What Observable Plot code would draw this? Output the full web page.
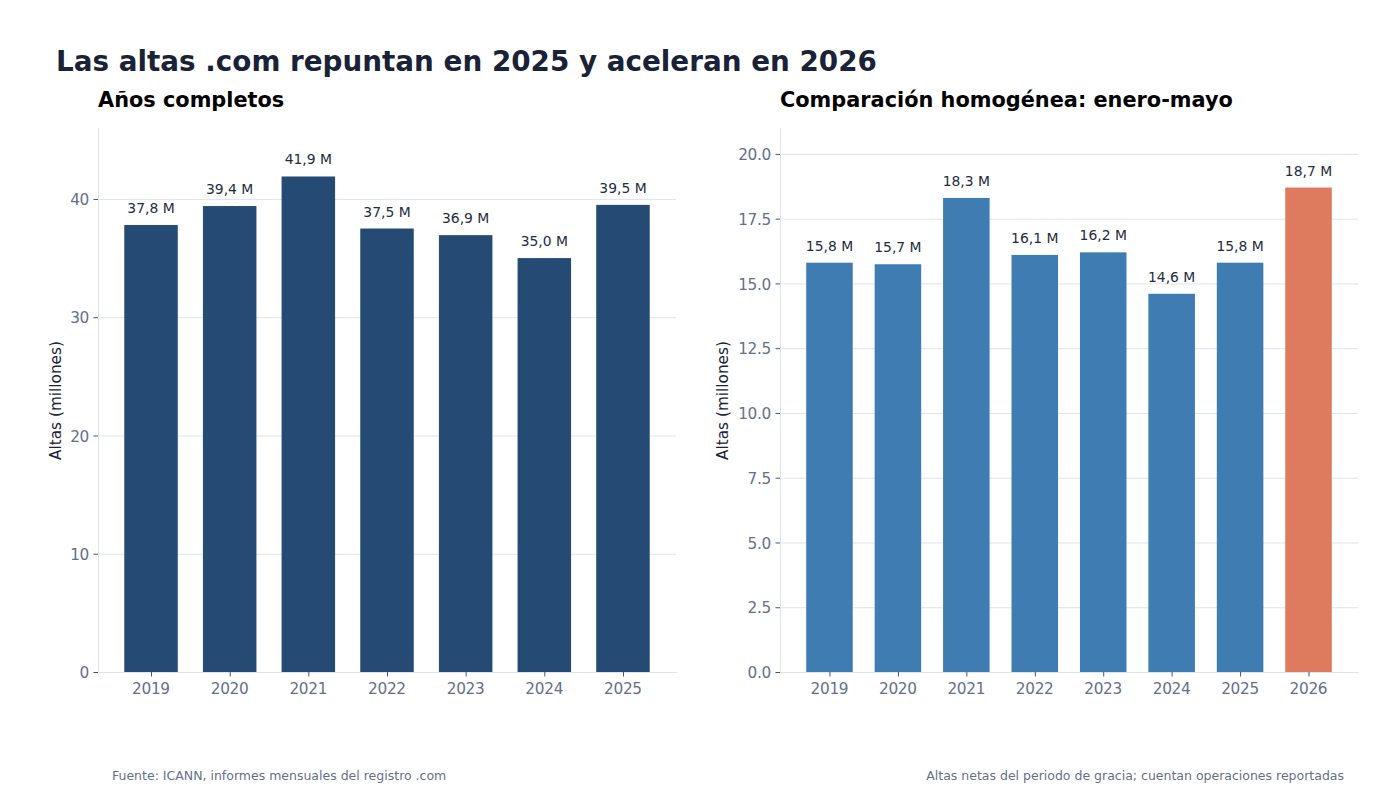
<!DOCTYPE html>
<html lang="es">
<head>
<meta charset="utf-8">
<script src="https://cdn.jsdelivr.net/npm/d3@7"></script>
<script src="https://cdn.jsdelivr.net/npm/@observablehq/plot@0.6"></script>
<style>
html,body{margin:0;padding:0;background:#fff;}
body{width:1400px;height:800px;position:relative;overflow:hidden;font-family:"DejaVu Sans",sans-serif;}
.t{position:absolute;white-space:nowrap;line-height:1;}
#title{left:56px;top:48px;font-size:27.8px;font-weight:700;color:#1a2238;}
.sub{top:90px;font-size:20.85px;font-weight:700;color:#000;}
.foot{top:770px;font-size:12.5px;color:#64708a;}
.chart{position:absolute;top:0;}
.chart svg{display:block;}
[aria-label$="tick label"]{letter-spacing:-0.3px;}
</style>
</head>
<body>
<div id="title" class="t">Las altas .com repuntan en 2025 y aceleran en 2026</div>
<div class="t sub" style="left:98px">Años completos</div>
<div class="t sub" style="left:780px">Comparación homogénea: enero-mayo</div>
<div id="left" class="chart" style="left:0"></div>
<div id="right" class="chart" style="left:682px"></div>
<div class="t foot" style="left:112px">Fuente: ICANN, informes mensuales del registro .com</div>
<div class="t foot" style="right:56px">Altas netas del periodo de gracia; cuentan operaciones reportadas</div>
<script>
const yearsFull = ["2019","2020","2021","2022","2023","2024","2025"];
const valuesFull = [37.8,39.4,41.9,37.5,36.94,35.0,39.5];
const yearsJanMay = ["2019","2020","2021","2022","2023","2024","2025","2026"];
const valuesJanMay = [15.8,15.74,18.3,16.1,16.2,14.6,15.8,18.7];
const ticksFull = [0,10,20,30,40];
const ticksJanMay = [0,2.5,5,7.5,10,12.5,15,17.5,20];
const yLabel = "Altas (millones)";

const gridColor = "#dee4ed";
const tickTextColor = "#64708a";
const tickColor = "#4a5568";
const fontFamily = '"DejaVu Sans",sans-serif';

function trunc1(v){ return (Math.floor(v*10+1e-6)/10).toFixed(1).replace(".",",")+" M"; }

function chart({years, values, yMax, ticks, tickFormat, colorOf, paddingOuter, labelOffset}){
  const data = years.map((year,i)=>({year, value:values[i]}));
  return Plot.plot({
    width:700, height:720,
    marginTop:128, marginBottom:48, marginLeft:98, marginRight:24,
    style:{fontFamily, background:"transparent", overflow:"visible"},
    x:{type:"band", domain:years, paddingInner:0.32, paddingOuter, align:0.5, round:false, label:null},
    y:{domain:[0,yMax], label:null},
    marks:[
      Plot.gridY(ticks,{stroke:gridColor, strokeOpacity:1, strokeWidth:1}),
      Plot.barY(data,{x:"year", y:"value", fill:d=>colorOf(d.year)}),
      Plot.frame({anchor:"left", stroke:gridColor, strokeOpacity:1}),
      Plot.frame({anchor:"bottom", stroke:gridColor, strokeOpacity:1}),
      Plot.axisX({text:null, tickSize:4.5, stroke:tickColor, strokeOpacity:1, label:null}),
      Plot.axisX({tickSize:0, tickPadding:10.5, dx:-0.6, fontSize:15.3, fill:tickTextColor, label:null}),
      Plot.axisY({ticks, text:null, tickSize:4.5, stroke:tickColor, strokeOpacity:1, label:null}),
      Plot.axisY({ticks, tickFormat, tickSize:0, tickPadding:9.5, dy:0.8, fontSize:15.3, fill:tickTextColor, label:null}),
      Plot.axisY({ticks:[], tickSize:0, label:yLabel, labelAnchor:"center", labelArrow:"none", labelOffset, fontSize:15.3, fill:"#1a2238"}),
      Plot.text(data,{x:"year", y:"value", text:d=>trunc1(d.value), dx:-0.5, dy:-12.5, lineAnchor:"bottom", fontSize:13.9, fill:"#252c40"})
    ]
  });
}

document.getElementById("left").append(chart({
  years:yearsFull, values:valuesFull, yMax:46, ticks:ticksFull,
  tickFormat:d3.format("d"), colorOf:()=>"#254a73", paddingOuter:0.334, labelOffset:48
}));
document.getElementById("right").append(chart({
  years:yearsJanMay, values:valuesJanMay, yMax:21, ticks:ticksJanMay,
  tickFormat:d3.format(".1f"), colorOf:y=>y==="2026"?"#de7b5e":"#3f7cb2", paddingOuter:0.383, labelOffset:63
}));
</script>
</body>
</html>
